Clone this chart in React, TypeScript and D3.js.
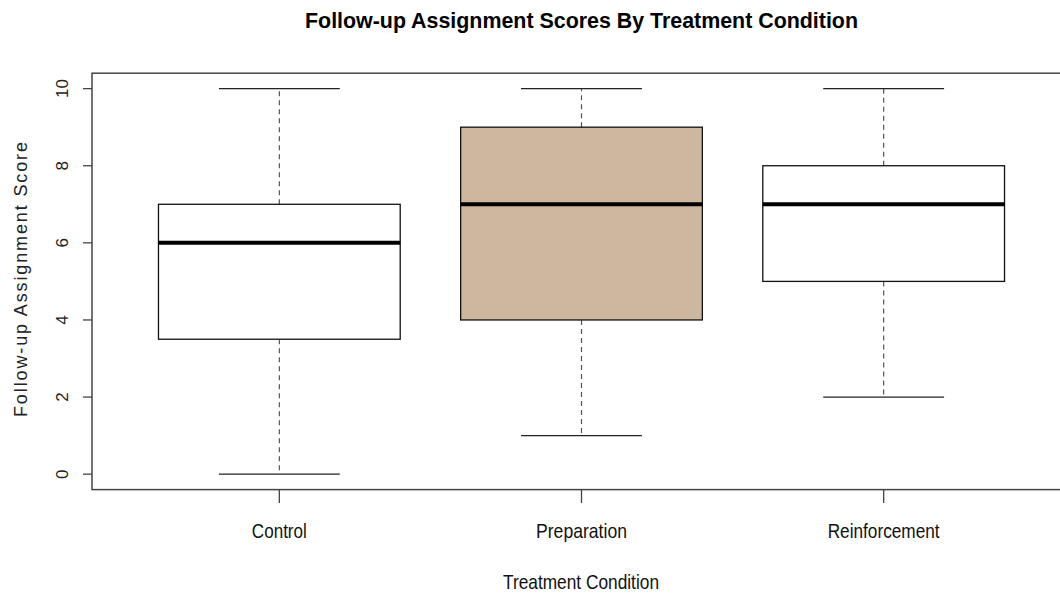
import React from "react";
import * as d3 from "d3";

const categories = ["Control", "Preparation", "Reinforcement"];
const mins = [0, 1, 2];
const q1s = [3.5, 4, 5];
const medians = [6, 7, 7];
const q3s = [7, 9, 8];
const maxs = [10, 10, 10];
const fills = ["#ffffff", "#CDB79E", "#ffffff"];
const yTicks = [0, 2, 4, 6, 8, 10];
const catLabelWidths = [55, 91, 112];

const W = 1060;
const H = 594;

export default function App() {
  const x = d3.scaleLinear().domain([0.38, 3.62]).range([92, 1071]);
  const y = d3.scaleLinear().domain([-0.4, 10.4]).range([489.6, 73.2]);
  const unit = x(1) - x(0);
  const boxHalf = 0.4 * unit;
  const capHalf = 0.2 * unit;
  const frameTop = y(10.4);
  const frameBottom = y(-0.4);

  return (
    <svg
      width={W}
      height={H}
      style={{ position: "absolute", left: 0, top: 0, background: "#fff" }}
      fontFamily="'Liberation Sans', Arial, sans-serif"
    >
      {/* title */}
      <text
        x={581.5}
        y={28}
        textAnchor="middle"
        fontWeight="bold"
        fontSize={22}
        textLength={553}
        lengthAdjust="spacingAndGlyphs"
        fill="#000"
      >
        Follow-up Assignment Scores By Treatment Condition
      </text>

      {/* boxes */}
      {categories.map((c, i) => {
        const cx = x(i + 1);
        return (
          <g key={c}>
            <line x1={cx} x2={cx} y1={y(q3s[i])} y2={y(maxs[i])} stroke="#555" strokeWidth={1.2} strokeDasharray="5,4" />
            <line x1={cx} x2={cx} y1={y(q1s[i])} y2={y(mins[i])} stroke="#555" strokeWidth={1.2} strokeDasharray="5,4" />
            <line x1={cx - capHalf} x2={cx + capHalf} y1={y(maxs[i])} y2={y(maxs[i])} stroke="#222" strokeWidth={1.3} />
            <line x1={cx - capHalf} x2={cx + capHalf} y1={y(mins[i])} y2={y(mins[i])} stroke="#222" strokeWidth={1.3} />
            <rect
              x={cx - boxHalf}
              y={y(q3s[i])}
              width={2 * boxHalf}
              height={y(q1s[i]) - y(q3s[i])}
              fill={fills[i]}
              stroke="#111"
              strokeWidth={1.3}
            />
            <line x1={cx - boxHalf} x2={cx + boxHalf} y1={y(medians[i])} y2={y(medians[i])} stroke="#000" strokeWidth={4} />
          </g>
        );
      })}

      {/* frame */}
      <rect x={92} y={frameTop} width={1071 - 92} height={frameBottom - frameTop} fill="none" stroke="#444" strokeWidth={1.5} />

      {/* y axis */}
      {yTicks.map((t) => (
        <g key={t}>
          <line x1={83} x2={92} y1={y(t)} y2={y(t)} stroke="#444" strokeWidth={1.3} />
          <text
            transform={`translate(67.5,${y(t)}) rotate(-90)`}
            textAnchor="middle"
            fontSize={17}
            fill="#222"
          >
            {t}
          </text>
        </g>
      ))}
      <text
        transform={`translate(27,${(417 + 142) / 2}) rotate(-90)`}
        textAnchor="middle"
        fontSize={18}
        textLength={275}
        lengthAdjust="spacing"
        fill="#222"
      >
        Follow-up Assignment Score
      </text>

      {/* x axis */}
      {categories.map((c, i) => (
        <g key={c}>
          <line x1={x(i + 1)} x2={x(i + 1)} y1={frameBottom} y2={503} stroke="#444" strokeWidth={1.3} />
          <text
            x={x(i + 1)}
            y={538}
            textAnchor="middle"
            fontSize={21}
            textLength={catLabelWidths[i]}
            lengthAdjust="spacingAndGlyphs"
            fill="#111"
          >
            {c}
          </text>
        </g>
      ))}
      <text
        x={581}
        y={589}
        textAnchor="middle"
        fontSize={21}
        textLength={156}
        lengthAdjust="spacingAndGlyphs"
        fill="#111"
      >
        Treatment Condition
      </text>
    </svg>
  );
}
